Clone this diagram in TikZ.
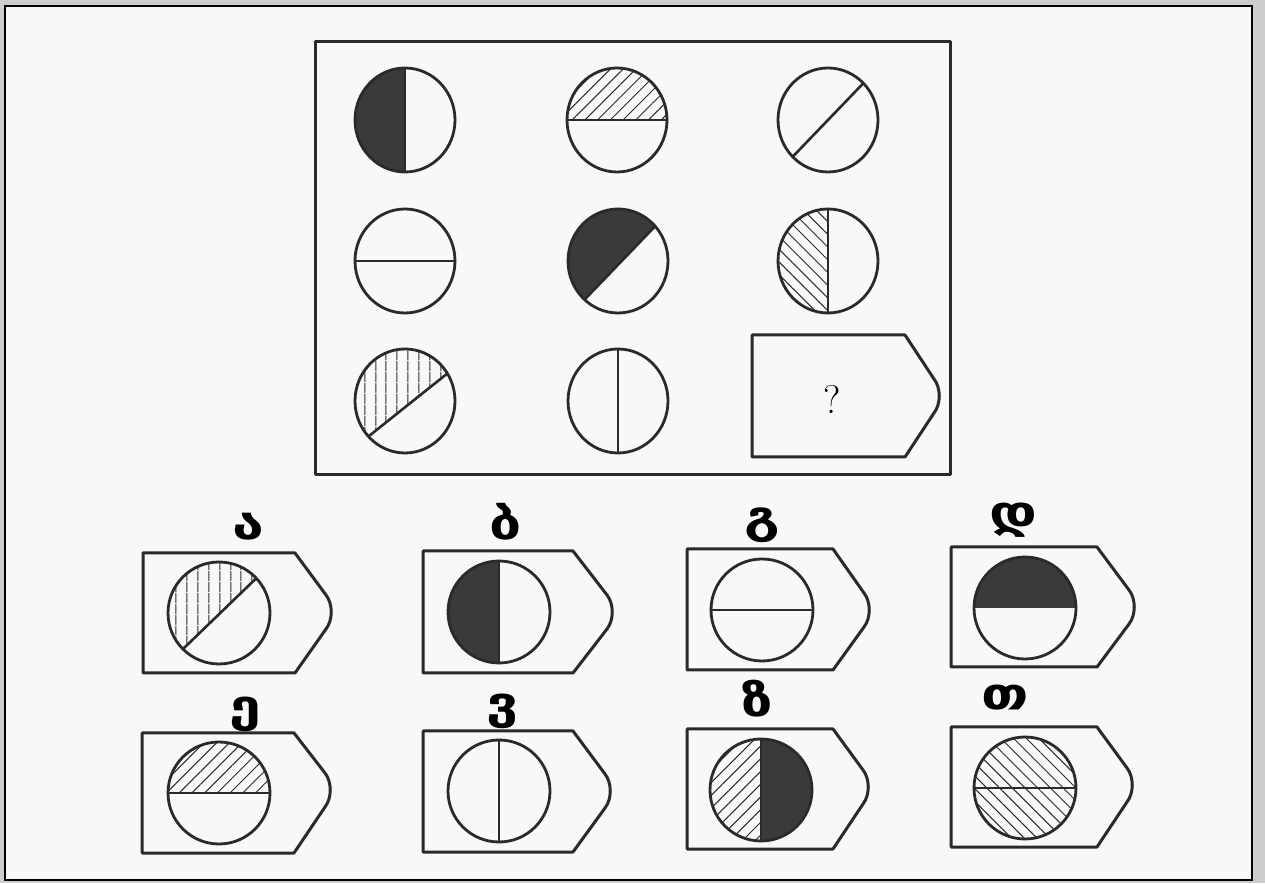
\documentclass[tikz,border=0pt]{standalone}
\usepackage{fontspec}
\newfontfamily\geo{DejaVu Sans}
\usetikzlibrary{patterns.meta}
\definecolor{ink}{HTML}{2A2A2A}
\definecolor{darkfill}{HTML}{3A3A3A}
\definecolor{paper}{HTML}{F8F8F8}
\definecolor{shadowc}{HTML}{CDCDCD}
\newcommand\cRX{50}
\newcommand\cRY{52}
\newcommand\seg[3]{\path[#3] (#1:\cRX pt and \cRY pt) arc[start angle=#1,end angle=#2,x radius=\cRX pt,y radius=\cRY pt] -- cycle;}
\newcommand\chord[2]{\draw[divl] (#1:\cRX pt and \cRY pt) -- (#2:\cRX pt and \cRY pt);}
\newcommand\ring{\draw[outl] (0,0) ellipse[x radius=\cRX pt,y radius=\cRY pt];}
\newcommand\wide[1]{\scalebox{1.3}[1]{#1}}
% left, topY, botY, cornerX, tipX, tipY
\newcommand\tagshape[6]{\draw[boxl] (#4,#2) -- (#1,#2) -- (#1,#3) -- (#4,#3) -- ({#5-6},{#6-17}) .. controls ({#5+1},{#6-8}) and ({#5+1},{#6+8}) .. ({#5-6},{#6+17}) -- cycle;}
\tikzset{
  outl/.style={draw=ink,line width=2.8pt},
  divl/.style={draw=ink,line width=2.6pt},
  boxl/.style={draw=ink,line width=3pt,line join=round},
  dark/.style={fill=darkfill},
  hne/.style={pattern={Lines[angle=45,distance=9pt,line width=1pt]},pattern color=ink},
  hnw/.style={pattern={Lines[angle=-45,distance=9pt,line width=1pt]},pattern color=ink},
  hv/.style={pattern={Lines[angle=90,distance=10.5pt,line width=1pt]},pattern color=ink},
  lab/.style={anchor=base,inner sep=0pt,font=\geo\bfseries\fontsize{44}{46}\selectfont},
}
\begin{document}
\begin{tikzpicture}[x=1pt,y=1pt]
\useasboundingbox (0,0) rectangle (1265,883);
\fill[shadowc] (0,0) rectangle (1265,883);
\draw[fill=paper,draw=black,line width=2.4pt] (5,3) rectangle (1252,877);
% main panel
\draw[boxl] (315,841) rectangle (950,408);
% row 1
\begin{scope}[shift={(405,763)}]\seg{90}{270}{dark}\chord{90}{270}\ring\end{scope}
\begin{scope}[shift={(617,763)}]\seg{0}{180}{hne}\chord{0}{180}\ring\end{scope}
\begin{scope}[shift={(828,763)}]\chord{45}{225}\ring\end{scope}
% row 2
\begin{scope}[shift={(405,622)}]\chord{0}{180}\ring\end{scope}
\begin{scope}[shift={(618,622)}]\seg{42}{228}{dark}\chord{42}{228}\ring\end{scope}
\begin{scope}[shift={(828,622)}]\seg{90}{270}{hnw}\chord{90}{270}\ring\end{scope}
% row 3
\begin{scope}[shift={(405,482)}]\seg{32}{223}{hv}\chord{32}{223}\ring\end{scope}
\begin{scope}[shift={(618,482)}]\chord{90}{270}\ring\end{scope}
\tagshape{752}{548}{426}{905}{940}{487}
\node[font=\fontsize{40}{42}\selectfont,inner sep=0pt] (q) at (832,484) {?};
% options
\renewcommand\cRX{51}\renewcommand\cRY{51}
\tagshape{143}{330}{210}{295}{332}{271}
\begin{scope}[shift={(219,270)}]\seg{43}{225}{hv}\chord{43}{225}\ring\end{scope}
\node[lab] (la) at (248,343) {\wide{ა}};
\tagshape{423}{332}{210}{573}{613}{271}
\begin{scope}[shift={(499,271)}]\seg{90}{270}{dark}\chord{90}{270}\ring\end{scope}
\node[lab] (lb) at (506,343) {\wide{ბ}};
\tagshape{687}{334}{213}{833}{870}{273}
\begin{scope}[shift={(762,273)}]\chord{0}{180}\ring\end{scope}
\node[lab] (lg) at (762,350) {\wide{გ}};
\tagshape{951}{336}{216}{1097}{1135}{276}
\begin{scope}[shift={(1025,275)}]\seg{0}{180}{dark}\ring\end{scope}
\node[lab] (ld) at (1013,355) {\wide{დ}};
\tagshape{142}{150}{30}{294}{331}{93}
\begin{scope}[shift={(219,90)}]\seg{0}{180}{hne}\chord{0}{180}\ring\end{scope}
\node[lab] (le) at (245,161) {\wide{ე}};
\tagshape{423}{152}{31}{573}{611}{92}
\begin{scope}[shift={(499,92)}]\chord{90}{270}\ring\end{scope}
\node[lab] (lv) at (503,164) {\wide{ვ}};
\tagshape{687}{154}{34}{833}{869}{96}
\begin{scope}[shift={(761,93)}]\seg{90}{270}{hne}\seg{-90}{90}{dark}\chord{90}{270}\ring\end{scope}
\node[lab] (lz) at (757,166) {\wide{ზ}};
\tagshape{951}{156}{36}{1097}{1133}{98}
\begin{scope}[shift={(1025,95)}]\fill[hnw] (0,0) ellipse[x radius=\cRX pt,y radius=\cRY pt];\chord{0}{180}\ring\end{scope}
\node[lab] (lt) at (1005,173) {\wide{თ}};
\end{tikzpicture}
\end{document}
